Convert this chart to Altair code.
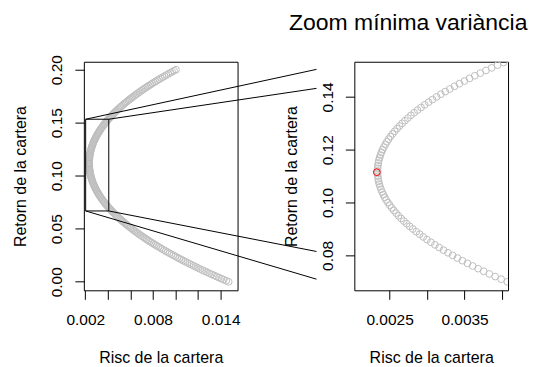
import altair as alt
import pandas as pd

retorn = [
    0.000, 0.001, 0.002, 0.003, 0.004, 0.005, 0.006, 0.007, 0.008, 0.009,
    0.010, 0.011, 0.012, 0.013, 0.014, 0.015, 0.016, 0.017, 0.018, 0.019,
    0.020, 0.021, 0.022, 0.023, 0.024, 0.025, 0.026, 0.027, 0.028, 0.029,
    0.030, 0.031, 0.032, 0.033, 0.034, 0.035, 0.036, 0.037, 0.038, 0.039,
    0.040, 0.041, 0.042, 0.043, 0.044, 0.045, 0.046, 0.047, 0.048, 0.049,
    0.050, 0.051, 0.052, 0.053, 0.054, 0.055, 0.056, 0.057, 0.058, 0.059,
    0.060, 0.061, 0.062, 0.063, 0.064, 0.065, 0.066, 0.067, 0.068, 0.069,
    0.070, 0.071, 0.072, 0.073, 0.074, 0.075, 0.076, 0.077, 0.078, 0.079,
    0.080, 0.081, 0.082, 0.083, 0.084, 0.085, 0.086, 0.087, 0.088, 0.089,
    0.090, 0.091, 0.092, 0.093, 0.094, 0.095, 0.096, 0.097, 0.098, 0.099,
    0.100, 0.101, 0.102, 0.103, 0.104, 0.105, 0.106, 0.107, 0.108, 0.109,
    0.110, 0.111, 0.112, 0.113, 0.114, 0.115, 0.116, 0.117, 0.118, 0.119,
    0.120, 0.121, 0.122, 0.123, 0.124, 0.125, 0.126, 0.127, 0.128, 0.129,
    0.130, 0.131, 0.132, 0.133, 0.134, 0.135, 0.136, 0.137, 0.138, 0.139,
    0.140, 0.141, 0.142, 0.143, 0.144, 0.145, 0.146, 0.147, 0.148, 0.149,
    0.150, 0.151, 0.152, 0.153, 0.154, 0.155, 0.156, 0.157, 0.158, 0.159,
    0.160, 0.161, 0.162, 0.163, 0.164, 0.165, 0.166, 0.167, 0.168, 0.169,
    0.170, 0.171, 0.172, 0.173, 0.174, 0.175, 0.176, 0.177, 0.178, 0.179,
    0.180, 0.181, 0.182, 0.183, 0.184, 0.185, 0.186, 0.187, 0.188, 0.189,
    0.190, 0.191, 0.192, 0.193, 0.194, 0.195, 0.196, 0.197, 0.198, 0.199,
    0.200,
]
risc = [
    0.014714, 0.014494, 0.014275, 0.014059, 0.013845, 0.013632, 0.013422, 0.013213, 0.013007, 0.012802,
    0.012600, 0.012399, 0.012200, 0.012004, 0.011809, 0.011617, 0.011426, 0.011237, 0.011050, 0.010866,
    0.010683, 0.010502, 0.010323, 0.010147, 0.009972, 0.009799, 0.009628, 0.009459, 0.009292, 0.009127,
    0.008964, 0.008803, 0.008644, 0.008487, 0.008332, 0.008179, 0.008028, 0.007879, 0.007732, 0.007587,
    0.007444, 0.007302, 0.007163, 0.007026, 0.006891, 0.006758, 0.006626, 0.006497, 0.006370, 0.006244,
    0.006121, 0.006000, 0.005880, 0.005763, 0.005647, 0.005534, 0.005422, 0.005313, 0.005205, 0.005100,
    0.004996, 0.004895, 0.004795, 0.004698, 0.004602, 0.004508, 0.004417, 0.004327, 0.004239, 0.004154,
    0.004070, 0.003988, 0.003908, 0.003830, 0.003755, 0.003681, 0.003609, 0.003539, 0.003471, 0.003405,
    0.003341, 0.003279, 0.003219, 0.003161, 0.003105, 0.003051, 0.002999, 0.002949, 0.002901, 0.002855,
    0.002810, 0.002768, 0.002728, 0.002690, 0.002654, 0.002619, 0.002587, 0.002557, 0.002529, 0.002502,
    0.002478, 0.002455, 0.002435, 0.002417, 0.002400, 0.002386, 0.002373, 0.002363, 0.002354, 0.002348,
    0.002343, 0.002341, 0.002340, 0.002341, 0.002345, 0.002350, 0.002357, 0.002367, 0.002378, 0.002391,
    0.002407, 0.002424, 0.002443, 0.002464, 0.002487, 0.002512, 0.002540, 0.002569, 0.002600, 0.002633,
    0.002668, 0.002705, 0.002744, 0.002785, 0.002828, 0.002873, 0.002920, 0.002969, 0.003020, 0.003072,
    0.003127, 0.003184, 0.003243, 0.003304, 0.003366, 0.003431, 0.003498, 0.003567, 0.003637, 0.003710,
    0.003785, 0.003861, 0.003940, 0.004020, 0.004103, 0.004188, 0.004274, 0.004363, 0.004453, 0.004546,
    0.004640, 0.004736, 0.004835, 0.004935, 0.005038, 0.005142, 0.005248, 0.005357, 0.005467, 0.005579,
    0.005693, 0.005810, 0.005928, 0.006048, 0.006170, 0.006294, 0.006420, 0.006549, 0.006679, 0.006811,
    0.006945, 0.007081, 0.007219, 0.007359, 0.007501, 0.007645, 0.007791, 0.007938, 0.008088, 0.008240,
    0.008394, 0.008550, 0.008708, 0.008867, 0.009029, 0.009193, 0.009359, 0.009526, 0.009696, 0.009868,
    0.010041,
]

# Minimum-variance portfolio
mv_risc = [0.00233]
mv_retorn = [0.1115]

# Zoom window (also the right panel's limits)
zoom_x = [0.00203, 0.00408]
zoom_y = [0.0668, 0.1533]

# Connector lines: rectangle corner -> end point (left-panel coordinates)
conn_x1 = [0.00203, 0.00408, 0.00408, 0.00203]
conn_y1 = [0.1533, 0.1533, 0.0668, 0.0668]
conn_x2 = [0.0225, 0.0225, 0.0225, 0.0225]
conn_y2 = [0.2003, 0.1824, 0.0286, 0.0025]

left_x_ticks = [0.002, 0.004, 0.006, 0.008, 0.010, 0.012, 0.014]
left_y_ticks = [0.00, 0.05, 0.10, 0.15, 0.20]
right_x_ticks = [0.0025, 0.0030, 0.0035, 0.0040]
right_y_ticks = [0.08, 0.10, 0.12, 0.14]

FONT = "Liberation Sans"
GREY = "#BEBEBE"
PT = 46

df = pd.DataFrame({"risc": risc, "retorn": retorn})
mv = pd.DataFrame({"risc": mv_risc, "retorn": mv_retorn})
rect_df = pd.DataFrame({"risc": [zoom_x[0]], "risc2": [zoom_x[1]],
                        "retorn": [zoom_y[0]], "retorn2": [zoom_y[1]]})
conn_df = pd.DataFrame({"risc": conn_x1, "retorn": conn_y1,
                        "risc2": conn_x2, "retorn2": conn_y2})

axis_common = dict(
    tickSize=9, tickColor="black", tickWidth=1, domain=False, grid=False,
    labelFont=FONT, labelFontSize=15.5, labelColor="black",
    titleFont=FONT, titleFontSize=16, titleFontWeight="normal", titleColor="black",
    labelOverlap=False, labelFlush=False,
)


def xaxis(values, fmt, shown):
    expr = "indexof(" + str(shown) + ", datum.label) >= 0 ? datum.label : ''"
    return alt.Axis(values=values, format=fmt, labelExpr=expr, labelAlign="center",
                    labelBaseline="alphabetic", labelPadding=25,
                    titlePadding=22, title="Risc de la cartera", **axis_common)


def yaxis(values, fmt):
    return alt.Axis(values=values, format=fmt, labelAngle=270,
                    labelAlign="center", labelBaseline="alphabetic", labelPadding=13,
                    titleBaseline="alphabetic", titlePadding=24,
                    title="Retorn de la cartera", **axis_common)


LX = alt.Scale(domain=[0.00187, 0.0155], zero=False, nice=False)
LY = alt.Scale(domain=[-0.008, 0.2075], zero=False, nice=False)
RX = alt.Scale(domain=zoom_x, zero=False, nice=False)
RY = alt.Scale(domain=zoom_y, zero=False, nice=False)

LXA = xaxis(left_x_ticks, ".3f", ["0.002", "0.008", "0.014"])
LYA = yaxis(left_y_ticks, ".2f")
RXA = xaxis(right_x_ticks, ".4f", ["0.0025", "0.0035"])
RYA = yaxis(right_y_ticks, ".2f")

W, H = 154, 229


def lx():
    return alt.X("risc:Q", scale=LX, axis=LXA)


def ly():
    return alt.Y("retorn:Q", scale=LY, axis=LYA)


def rx():
    return alt.X("risc:Q", scale=RX, axis=RXA)


def ry():
    return alt.Y("retorn:Q", scale=RY, axis=RYA)


left_red = alt.Chart(mv).mark_point(shape="circle", filled=False, color="red",
                                    size=PT, strokeWidth=1, opacity=1).encode(x=lx(), y=ly())
left_grey = alt.Chart(df).mark_point(shape="circle", filled=False, color=GREY,
                                     size=PT, strokeWidth=1, opacity=1).encode(x=lx(), y=ly())
left_rect = alt.Chart(rect_df).mark_rect(fillOpacity=0, stroke="black", strokeWidth=1).encode(
    x=lx(), x2="risc2:Q", y=ly(), y2="retorn2:Q")
left_conn = alt.Chart(conn_df).mark_rule(color="black", strokeWidth=1).encode(
    x=lx(), x2="risc2:Q", y=ly(), y2="retorn2:Q")

left = alt.layer(left_red, left_grey, left_rect, left_conn).properties(width=W, height=H)

right_grey = alt.Chart(df).mark_point(shape="circle", filled=False, color=GREY,
                                      size=PT, strokeWidth=1, opacity=1, clip=True).encode(
    x=rx(), y=ry())
right_red = alt.Chart(mv).mark_point(shape="circle", filled=False, color="red",
                                     size=PT, strokeWidth=1, opacity=1, clip=True).encode(
    x=rx(), y=ry())

right = alt.layer(right_grey, right_red).properties(
    width=W, height=H,
    title=alt.TitleParams("Zoom mínima variància", font=FONT, fontSize=23,
                          fontWeight="normal", color="black", anchor="middle",
                          frame="group", dx=-23, offset=8.5, baseline="alphabetic"),
)

chart = alt.hconcat(left, right, spacing=117, bounds="flush").properties(
    padding={"left": 4, "top": 3.5, "right": 0, "bottom": 0}
).configure(background="white").configure_view(
    stroke="black", strokeWidth=1
).configure_axis(labelFlush=False)

chart.save("out.html", embed_options={"renderer": "svg", "actions": False})
